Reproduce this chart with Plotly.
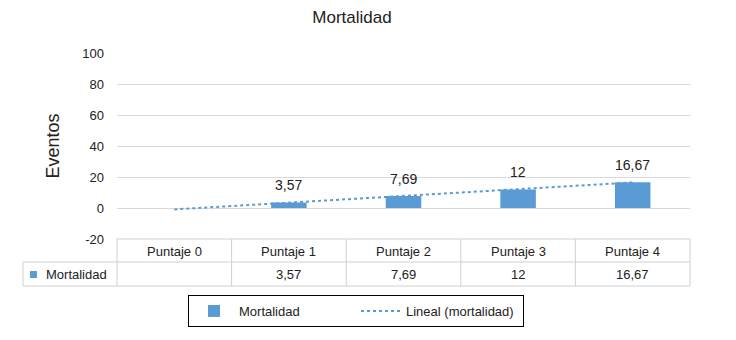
import plotly.graph_objects as go

categories = ["Puntaje 0", "Puntaje 1", "Puntaje 2", "Puntaje 3", "Puntaje 4"]
mortalidad = [None, 3.57, 7.69, 12, 16.67]
value_labels = ["", "3,57", "7,69", "12", "16,67"]
trend_x = ["Puntaje 0", "Puntaje 4"]
trend_values = [-0.9, 16.5]
y_ticks = [-20, 0, 20, 40, 60, 80, 100]
y_tick_text = ["-20", "0", "20", "40", "60", "80", "100"]

BLUE = "#5B9BD5"
GRID = "#D9D9D9"
TXT = "#222222"
FONT = "Liberation Sans, Arial, sans-serif"

W, H = 736, 340
L, R, T, B = 117, 46, 53, 101
PW, PH = W - L - R, H - T - B

def px_to_py(p):
    return (H - B - p) / PH

def px_to_px(x):
    return (x - L) / PW

fig = go.Figure()
fig.add_trace(go.Bar(
    x=categories, y=mortalidad, name="Mortalidad",
    marker=dict(color=BLUE, line=dict(width=0)), width=0.31,
))
fig.add_trace(go.Scatter(
    x=trend_x, y=trend_values, mode="lines", name="Lineal (mortalidad)",
    line=dict(color=BLUE, dash="dot", width=2),
))

annotations = []
for c, v, lab in zip(categories, mortalidad, value_labels):
    if v is None:
        continue
    annotations.append(dict(x=c, y=v, xref="x", yref="y", text=lab, showarrow=False,
                            xanchor="center", yanchor="middle",
                            yshift=17, font=dict(size=14, color=TXT, family=FONT)))

# data table
y_head = px_to_py(251)
y_row = px_to_py(274)
for c, lab in zip(categories, value_labels):
    annotations.append(dict(x=c, y=y_head, xref="x", yref="paper", text=c, showarrow=False,
                            xanchor="center", yanchor="middle",
                            font=dict(size=13, color=TXT, family=FONT)))
    if lab:
        annotations.append(dict(x=c, y=y_row, xref="x", yref="paper", text=lab, showarrow=False,
                                xanchor="center", yanchor="middle",
                                font=dict(size=13, color=TXT, family=FONT)))
annotations.append(dict(x=px_to_px(44), y=y_row, xref="paper", yref="paper", text="Mortalidad",
                        xanchor="left", yanchor="middle", showarrow=False,
                        font=dict(size=13, color=TXT, family=FONT)))

shapes = []
tl = dict(color="#D0D0D0", width=1)
y_top, y_mid, y_bot = px_to_py(239), px_to_py(262), px_to_py(286)
x_left = px_to_px(23)
shapes.append(dict(type="line", xref="paper", yref="paper", x0=0, x1=1, y0=y_top, y1=y_top, line=tl))
shapes.append(dict(type="line", xref="paper", yref="paper", x0=x_left, x1=1, y0=y_mid, y1=y_mid, line=tl))
shapes.append(dict(type="line", xref="paper", yref="paper", x0=x_left, x1=1, y0=y_bot, y1=y_bot, line=tl))
shapes.append(dict(type="line", xref="paper", yref="paper", x0=x_left, x1=x_left, y0=y_mid, y1=y_bot, line=tl))
for k in range(len(categories) + 1):
    xp = k / len(categories)
    shapes.append(dict(type="line", xref="paper", yref="paper", x0=xp, x1=xp, y0=y_top, y1=y_bot, line=tl))
# legend key square in the table
shapes.append(dict(type="rect", xref="paper", yref="paper",
                   x0=px_to_px(30), x1=px_to_px(37), y0=px_to_py(278), y1=px_to_py(271),
                   fillcolor=BLUE, line=dict(width=0)))

fig.update_layout(
    width=W, height=H,
    margin=dict(l=L, r=R, t=T, b=B, pad=0),
    paper_bgcolor="white", plot_bgcolor="white",
    separators=",.",
    font=dict(family=FONT, color=TXT, size=13),
    title=dict(text="Mortalidad", x=352 / W, xanchor="center", y=1 - 17 / H, yanchor="middle",
               font=dict(size=17, color=TXT, family=FONT)),
    showlegend=True,
    legend=dict(orientation="h", x=px_to_px(356), xanchor="center", y=px_to_py(311), yanchor="middle",
                bordercolor="black", borderwidth=1, bgcolor="white",
                font=dict(size=13, color=TXT, family=FONT), itemwidth=40,
                entrywidth=112, entrywidthmode="pixels"),
    xaxis=dict(type="category", categoryarray=categories, showticklabels=False, showgrid=False,
               showline=False, zeroline=False, range=[-0.5, 4.5]),
    yaxis=dict(range=[-20, 100], tickvals=y_ticks, ticktext=y_tick_text, showgrid=True,
               gridcolor=GRID, gridwidth=1,
               zeroline=True, zerolinecolor=GRID, zerolinewidth=1, showline=False,
               ticklabelstandoff=12, tickfont=dict(size=13, color=TXT, family=FONT),
               title=dict(text="Eventos", standoff=17, font=dict(size=18, color=TXT, family=FONT))),
    annotations=annotations,
    shapes=shapes,
    bargap=0.69,
)

fig.write_html("out.html", config={"displayModeBar": False},
               post_script="document.body.style.margin='0';window.dispatchEvent(new Event('resize'));")
